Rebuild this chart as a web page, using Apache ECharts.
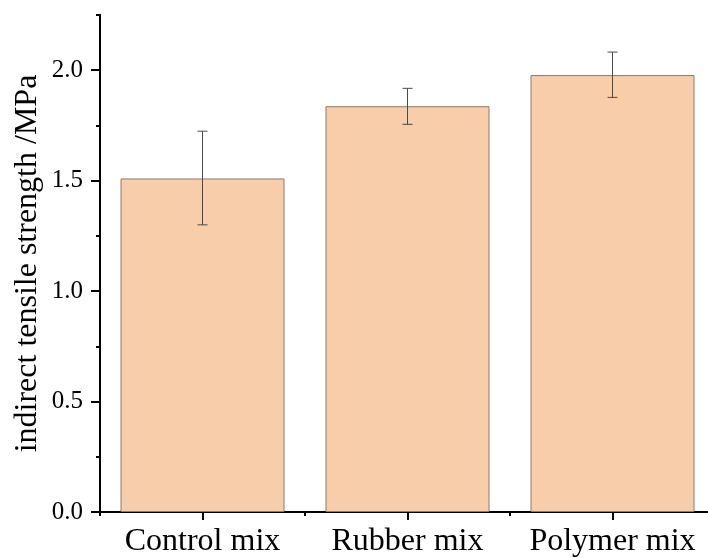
<!DOCTYPE html>
<html>
<head>
<meta charset="utf-8">
<script src="https://cdn.jsdelivr.net/npm/echarts@6/dist/echarts.min.js"></script>
<style>
  html, body { margin: 0; padding: 0; background: #fff; }
  #chart { width: 708px; height: 558px; }
</style>
</head>
<body>
<div id="chart"></div>
<script>
const categories = ['Control mix', 'Rubber mix', 'Polymer mix'];
const strength = [1.51, 1.837, 1.978];
const errLow = [1.30, 1.755, 1.877];
const errHigh = [1.724, 1.918, 2.082];
// y tick positions, every 0.25; labelled every 0.5 (last one unlabelled)
const yTickLabels = ['0.0', '0.25', '0.5', '0.75', '1.0', '1.25', '1.5', '1.75', '2.0', '2.25'];

const FONT = 'Liberation Serif';
const myChart = echarts.init(document.getElementById('chart'));

const errData = categories.map((c, i) => [i, errLow[i], errHigh[i]]);
const isMajor = (i) => i % 2 === 0 && i < yTickLabels.length - 1;

const option = {
  animation: false,
  grid: { left: 100, top: 15, height: 497, width: 615, containLabel: false, outerBoundsMode: 'none' },
  xAxis: [
    {
      type: 'category',
      data: categories,
      axisLine: { show: true, lineStyle: { color: '#000', width: 2 } },
      axisTick: { show: true, interval: 0, alignWithLabel: true, length: 8, lineStyle: { color: '#000', width: 2 } },
      axisLabel: { color: '#000', fontFamily: FONT, fontSize: 32, margin: 14, interval: 0, hideOverlap: false }
    },
    {
      // boundary ticks between categories
      type: 'category',
      data: categories,
      position: 'bottom',
      axisLine: { show: true, lineStyle: { color: '#000', width: 2 } },
      axisTick: { show: true, interval: 0, length: 4, lineStyle: { color: '#000', width: 2 } },
      axisLabel: { show: false }
    }
  ],
  yAxis: [
    {
      type: 'value',
      min: 0,
      max: 2.25,
      interval: 0.25,
      name: 'indirect tensile strength /MPa',
      nameLocation: 'middle',
      nameGap: 56,
      nameTextStyle: { color: '#000', fontFamily: FONT, fontSize: 32 },
      axisLine: { show: true, lineStyle: { color: '#000', width: 2 } },
      axisTick: { show: true, length: 4, lineStyle: { color: '#000', width: 2 } },
      axisLabel: { show: false },
      splitLine: { show: false }
    },
    {
      // major ticks + labels
      type: 'category',
      data: yTickLabels,
      boundaryGap: false,
      position: 'left',
      axisLine: { show: true, lineStyle: { color: '#000', width: 2 } },
      axisTick: { show: true, length: 9, interval: (i) => isMajor(i), lineStyle: { color: '#000', width: 2 } },
      axisLabel: {
        color: '#000', fontFamily: FONT, fontSize: 25, margin: 17,
        interval: (i) => isMajor(i)
      },
      splitLine: { show: false }
    }
  ],
  series: [
    {
      type: 'bar',
      data: strength,
      barWidth: '80%',
      itemStyle: { color: '#f8cda9', borderColor: '#8a7a6c', borderWidth: 1 }
    },
    {
      type: 'custom',
      data: errData,
      z: 10,
      renderItem: (params, api) => {
        const x = api.value(0);
        const lo = api.coord([x, api.value(1)]);
        const hi = api.coord([x, api.value(2)]);
        const w = 5;
        const style = { stroke: '#4a4a4a', lineWidth: 1 };
        return {
          type: 'group',
          children: [
            { type: 'line', shape: { x1: lo[0], y1: lo[1], x2: hi[0], y2: hi[1] }, style },
            { type: 'line', shape: { x1: lo[0] - w, y1: lo[1], x2: lo[0] + w, y2: lo[1] }, style },
            { type: 'line', shape: { x1: hi[0] - w, y1: hi[1], x2: hi[0] + w, y2: hi[1] }, style }
          ]
        };
      }
    }
  ]
};

myChart.setOption(option);
window.addEventListener('resize', () => myChart.resize());
</script>
</body>
</html>
